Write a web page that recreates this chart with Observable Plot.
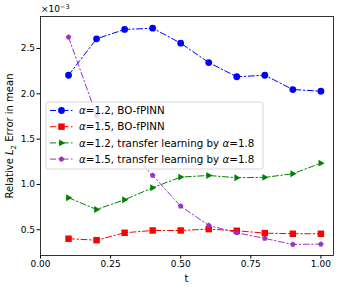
<!DOCTYPE html>
<html>
<head>
<meta charset="utf-8">
<script src="https://cdn.jsdelivr.net/npm/d3@7"></script>
<script src="https://cdn.jsdelivr.net/npm/@observablehq/plot@0.6"></script>
<style>
body { margin: 0; background: #fff; }
#chart { position: relative; width: 341px; height: 290px; }
</style>
</head>
<body>
<div id="chart"></div>
<script>
// Data (values in units of 1e-3)
const t = [0.1, 0.2, 0.3, 0.4, 0.5, 0.6, 0.7, 0.8, 0.9, 1.0];
const blueBO12 = [2.205, 2.607, 2.71, 2.724, 2.559, 2.345, 2.188, 2.205, 2.047, 2.029];
const redBO15 = [0.401, 0.385, 0.467, 0.492, 0.492, 0.507, 0.489, 0.463, 0.456, 0.456];
const greenTL12 = [0.853, 0.724, 0.831, 0.964, 1.081, 1.099, 1.074, 1.078, 1.118, 1.235];
const purpleTL15 = [2.625, 1.76, 1.43, 1.10, 0.76, 0.548, 0.467, 0.404, 0.338, 0.342];
const seriesNames = ["α=1.2, BO-fPINN", "α=1.5, BO-fPINN", "α=1.2, transfer learning by α=1.8", "α=1.5, transfer learning by α=1.8"];
const xTicks = [0, 0.25, 0.5, 0.75, 1.0];
const yTicks = [0.5, 1.0, 1.5, 2.0, 2.5];

const triRight = {draw(ctx, size) { const r = Math.sqrt(size / Math.PI);
  ctx.moveTo(r * 1.25, 0); ctx.lineTo(-r * 0.8, -r * 1.15); ctx.lineTo(-r * 0.8, r * 1.15); ctx.closePath(); }};
const pentagon = {draw(ctx, size) { const r = Math.sqrt(size / Math.PI) * 1.1;
  for (let k = 0; k < 5; k++) { const a = -Math.PI / 2 + k * 2 * Math.PI / 5;
    const x = r * Math.cos(a), y = r * Math.sin(a); k ? ctx.lineTo(x, y) : ctx.moveTo(x, y); } ctx.closePath(); }};
const squareSym = {draw(ctx, size) { const r = Math.sqrt(size / Math.PI) * 0.95;
  ctx.rect(-r, -r, 2 * r, 2 * r); }};

const series = [
  {name: seriesNames[0], values: blueBO12, color: "#0000ff", symbol: "circle", r: 3.4},
  {name: seriesNames[1], values: redBO15, color: "#ff0000", symbol: squareSym, r: 3.4},
  {name: seriesNames[2], values: greenTL12, color: "#008000", symbol: triRight, r: 3.0},
  {name: seriesNames[3], values: purpleTL15, color: "#9932cc", symbol: pentagon, r: 2.6}
];
const dash = "6,2.5,1.5,2.5";

const marks = [];
for (const s of series) {
  const data = t.map((x, i) => ({t: x, v: s.values[i]}));
  marks.push(Plot.line(data, {x: "t", y: "v", stroke: s.color, strokeWidth: 1, strokeDasharray: dash}));
  marks.push(Plot.dot(data, {x: "t", y: "v", fill: s.color, stroke: "none", r: s.r, symbol: s.symbol}));
}
marks.push(Plot.frame({stroke: "#000", strokeWidth: 0.8}));

const svg = Plot.plot({
  width: 341, height: 290,
  marginLeft: 40, marginRight: 8, marginTop: 16, marginBottom: 35,
  style: {fontFamily: "DejaVu Sans", fontSize: "9px", color: "#000", background: "#fff"},
  x: {domain: [0, 1.045], ticks: xTicks, tickFormat: d3.format(".2f"), tickSize: 3.5, tickPadding: 2, label: null},
  y: {domain: [0.216, 2.853], ticks: yTicks, tickFormat: d3.format(".1f"), tickSize: 3.5, tickPadding: 2, label: null},
  marks
});
document.getElementById("chart").appendChild(svg);

const root = d3.select(svg);
const ff = "DejaVu Sans";
// x label
root.append("text").attr("x", (40 + 333) / 2).attr("y", 282).attr("text-anchor", "middle")
  .attr("font-family", ff).attr("font-size", 10).text("t");
// y label
const yl = root.append("text").attr("transform", "translate(13,136) rotate(-90)").attr("text-anchor", "middle")
  .attr("font-family", ff).attr("font-size", 10);
yl.append("tspan").text("Relative ");
yl.append("tspan").attr("font-style", "italic").text("L");
yl.append("tspan").attr("font-size", 7).attr("dy", 2.5).text("2");
yl.append("tspan").attr("dy", -2.5).text(" Error in mean");
// offset
const off = root.append("text").attr("x", 41).attr("y", 12).attr("text-anchor", "start")
  .attr("font-family", ff).attr("font-size", 9);
off.append("tspan").text("×10");
off.append("tspan").attr("font-size", 6.5).attr("dy", -3.5).text("−3");

// legend
const lg = root.append("g");
lg.append("rect").attr("x", 46).attr("y", 102).attr("width", 217).attr("height", 67).attr("rx", 2.5)
  .attr("fill", "rgba(255,255,255,0.8)").attr("stroke", "#cccccc").attr("stroke-width", 0.8);
series.forEach((s, i) => {
  const y = 110.5 + i * 16.2;
  lg.append("line").attr("x1", 50).attr("x2", 73).attr("y1", y).attr("y2", y)
    .attr("stroke", s.color).attr("stroke-width", 1).attr("stroke-dasharray", dash);
  const sym = typeof s.symbol === "string" ? d3.symbolCircle : s.symbol;
  lg.append("path").attr("transform", `translate(61.5,${y})`)
    .attr("d", d3.symbol(sym, Math.PI * s.r * s.r)()).attr("fill", s.color);
  const tx = lg.append("text").attr("x", 79).attr("y", y + 3.7).attr("text-anchor", "start")
    .attr("font-family", ff).attr("font-size", 10.3);
  const parts = s.name.split("α");
  parts.forEach((p, j) => {
    if (j > 0) tx.append("tspan").attr("font-style", "italic").text("α");
    if (p) tx.append("tspan").text(p);
  });
});
</script>
</body>
</html>
